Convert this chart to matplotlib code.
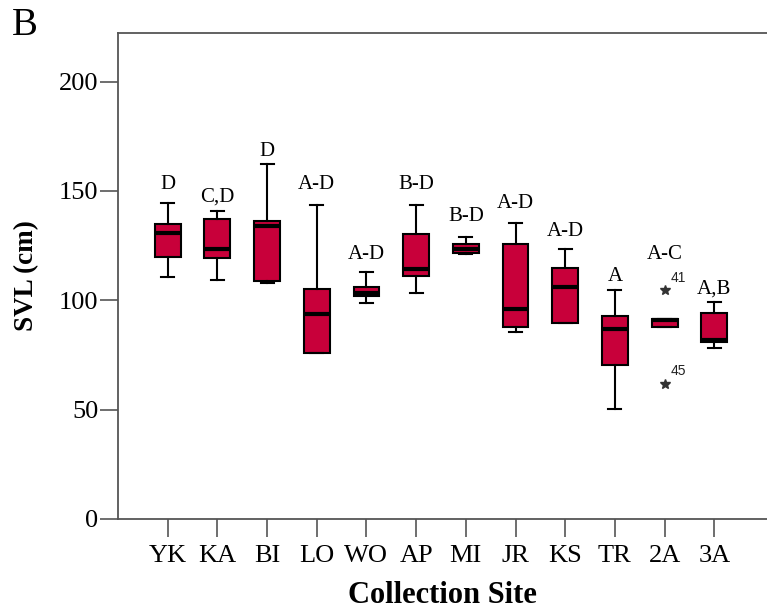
import matplotlib
matplotlib.use("Agg")
import matplotlib.pyplot as plt

# =================================================
# DATOS
# =================================================
sitios = ["YK", "KA", "BI", "LO", "WO", "AP", "MI", "JR", "KS", "TR", "2A", "3A"]
bigote_inf = [110.8, 109.1, 108.1, 75.8, 98.8, 103.5, 121.0, 85.7, 89.8, 50.4, 87.8, 78.3]
q1 = [119.8, 119.2, 108.8, 75.8, 101.8, 111.0, 121.8, 87.8, 89.8, 70.3, 87.8, 81.0]
mediana = [130.9, 123.6, 133.9, 93.8, 103.5, 114.5, 123.6, 95.9, 105.9, 86.8, 91.0, 81.8]
q3 = [135.0, 137.0, 136.4, 105.3, 106.0, 130.3, 125.7, 125.7, 114.9, 92.7, 91.6, 94.0]
bigote_sup = [144.6, 140.8, 162.1, 143.8, 112.8, 143.8, 128.8, 135.5, 123.6, 104.9, 91.6, 99.3]

# valores extremos (solo 2A)
extremos = {"2A": [104.6, 61.7]}
extremos_id = {"2A": ["41", "45"]}

# letras de significancia y su altura (cm)
letras = ["D", "C,D", "D", "A-D", "A-D", "B-D", "B-D", "A-D", "A-D", "A", "A-C", "A,B"]
letras_y = [150.7, 145.0, 165.8, 150.7, 118.7, 151.0, 136.3, 142.3, 129.6, 108.8, 118.7, 103.1]

ROJO = "#C8003A"
GRIS = "#555555"

plt.rcParams["font.family"] = ["Liberation Serif", "DejaVu Serif"]

fig = plt.figure(figsize=(7.67, 6.11), dpi=100)
ax = fig.add_axes([0.1538, 0.1507, 0.8462, 0.7955])

stats = []
for i, s in enumerate(sitios):
    stats.append({
        "label": s,
        "med": mediana[i],
        "q1": q1[i],
        "q3": q3[i],
        "whislo": bigote_inf[i],
        "whishi": bigote_sup[i],
        "fliers": extremos.get(s, []),
    })

pos = list(range(1, len(sitios) + 1))
ax.bxp(
    stats,
    positions=pos,
    widths=0.52,
    capwidths=0.26,
    patch_artist=True,
    boxprops=dict(facecolor=ROJO, edgecolor="black", linewidth=1.5),
    medianprops=dict(color="black", linewidth=3),
    whiskerprops=dict(color="black", linewidth=1.5),
    capprops=dict(color="black", linewidth=1.5),
    flierprops=dict(marker="*", markersize=7, markerfacecolor="#333333",
                    markeredgecolor="#333333", linestyle="none"),
)

# etiquetas de los casos extremos
for s, vals in extremos.items():
    x = sitios.index(s) + 1
    for v, etiqueta in zip(vals, extremos_id[s]):
        ax.annotate(etiqueta, (x, v), xytext=(4, 4), textcoords="offset points",
                    fontsize=10, family=["Liberation Sans", "DejaVu Sans"],
                    ha="left", va="bottom", color="#222222")

# letras sobre cada caja
for x, l, y in zip(pos, letras, letras_y):
    ax.text(x, y, l, ha="center", va="baseline", fontsize=15)

ax.set_xlim(0, 13.06)
ax.set_ylim(0, 222.3)
ax.set_yticks([0, 50, 100, 150, 200])
ax.set_xticks(pos)
ax.set_xticklabels(sitios)

ax.spines["right"].set_visible(False)
for lado in ["left", "bottom", "top"]:
    ax.spines[lado].set_color(GRIS)
    ax.spines[lado].set_linewidth(1.3)
ax.tick_params(axis="both", length=13, width=1.2, color=GRIS, labelsize=19)
ax.tick_params(axis="y", pad=1)
ax.tick_params(axis="x", pad=6)

ax.set_ylabel("SVL (cm)", fontsize=19.5, fontweight="bold", labelpad=14)
ax.set_xlabel("Collection Site", fontsize=22, fontweight="bold", labelpad=10)

fig.text(0.015, 1 - 35 / 611, "B", fontsize=28, va="baseline", ha="left")

fig.savefig("out.png", dpi=100)
